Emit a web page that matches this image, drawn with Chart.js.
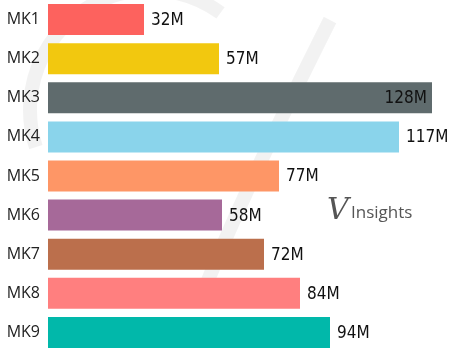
<!DOCTYPE html>
<html>
<head>
<meta charset="utf-8">
<script src="https://cdn.jsdelivr.net/npm/chart.js@4"></script>
<style>
  html, body { margin: 0; padding: 0; background: #fff; }
  #wrap { width: 458px; height: 352px; position: relative; }
</style>
</head>
<body>
<div id="wrap"><canvas id="chart1"></canvas></div>
<script>
// data (millions)
var districts = ['MK1', 'MK2', 'MK3', 'MK4', 'MK5', 'MK6', 'MK7', 'MK8', 'MK9'];
var values = [32, 57, 128, 117, 77, 58, 72, 84, 94];
var barColours = ['#FD625E', '#F2C80F', '#5F6B6D', '#8AD4EB', '#FE9666',
                  '#A66999', '#BB6F4C', '#FF7F7F', '#01B8AA'];

// value labels at the end of each bar, inside for the longest one
var valueLabels = {
    id: 'valueLabels',
    afterDatasetsDraw: function(chart) {
        var c = chart.ctx;
        var meta = chart.getDatasetMeta(0);
        var maxVal = Math.max.apply(null, values);
        c.save();
        c.font = '17px "DejaVu Sans Condensed", "DejaVu Sans", sans-serif';
        c.fillStyle = '#111';
        c.textBaseline = 'middle';
        meta.data.forEach(function(bar, i) {
            var txt = values[i] + 'M';
            if (values[i] === maxVal) {
                c.textAlign = 'right';
                c.fillText(txt, bar.x - 5, bar.y + 1);
            } else {
                c.textAlign = 'left';
                c.fillText(txt, bar.x + 7, bar.y + 1);
            }
        });
        c.restore();
    }
};

// faint watermark + logo
var watermark = {
    id: 'watermark',
    beforeDatasetsDraw: function(chart) {
        var c = chart.ctx;
        c.save();
        c.strokeStyle = 'rgba(0,0,0,0.05)';
        c.lineWidth = 14;
        c.beginPath();
        c.moveTo(200, 300);
        c.bezierCurveTo(240, 200, 290, 100, 330, 20);
        c.stroke();
        c.beginPath();
        c.arc(150, 110, 120, Math.PI * 0.9, Math.PI * 1.7);
        c.stroke();
        c.restore();
    },
    afterDatasetsDraw: function(chart) {
        var c = chart.ctx;
        c.save();
        c.fillStyle = '#555';
        c.textBaseline = 'alphabetic';
        c.font = 'italic 30px "DejaVu Serif", serif';
        c.fillText('V', 327, 219);
        c.font = '17px "Open Sans", sans-serif';
        c.fillText('Insights', 351, 218);
        c.restore();
    }
};

var ctx = document.getElementById('chart1').getContext('2d');
var chart = new Chart(ctx, {
    type: 'bar',
    data: {
        labels: districts,
        datasets: [{
            data: values,
            backgroundColor: barColours,
            borderWidth: 0,
            barPercentage: 0.88,
            categoryPercentage: 0.9
        }]
    },
    options: {
        indexAxis: 'y',
        responsive: true,
        maintainAspectRatio: false,
        animation: false,
        layout: { padding: { left: 0, right: 2, top: -2, bottom: 0 } },
        plugins: {
            legend: { display: false },
            tooltip: { enabled: false }
        },
        scales: {
            x: {
                display: false,
                min: 0,
                max: 136
            },
            y: {
                grid: { display: false, drawTicks: false },
                border: { display: false },
                ticks: {
                    color: '#222',
                    padding: 8,
                    font: { family: '"Open Sans", sans-serif', size: 16 }
                },
                afterFit: function(scale) {
                    scale.width = 48;
                    scale.paddingTop = 0;
                    scale.paddingBottom = 0;
                }
            }
        }
    },
    plugins: [watermark, valueLabels]
});
</script>
</body>
</html>
